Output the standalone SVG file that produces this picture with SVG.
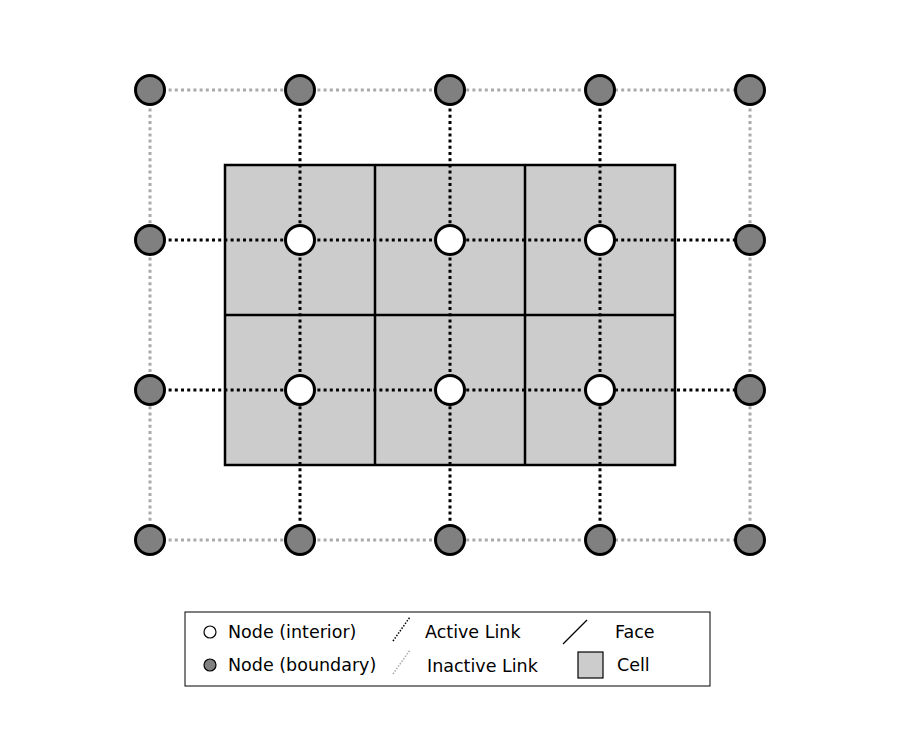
<svg xmlns="http://www.w3.org/2000/svg" width="900" height="750" viewBox="0 0 900 750">
<style>
.cell{fill:#cccccc;stroke:none}
.face{stroke:#000;stroke-width:2.5;fill:none}
.act{stroke:#000;stroke-width:3;stroke-dasharray:3,3.2;fill:none}
.inact{stroke:#aaaaaa;stroke-width:3;stroke-dasharray:3,3.2;fill:none}
.int{fill:#fff;stroke:#000;stroke-width:3}
.bnd{fill:#808080;stroke:#000;stroke-width:3}
text{font-family:"DejaVu Sans",sans-serif;font-size:17.5px;fill:#000}
</style>
<rect width="900" height="750" fill="#fff"/>
<g id="cells">
<rect class="cell" x="225" y="165" width="450" height="300"/>
</g>
<g id="faces">
<rect class="face" x="225" y="165" width="450" height="300"/>
<line class="face" x1="375" y1="165" x2="375" y2="465"/>
<line class="face" x1="525" y1="165" x2="525" y2="465"/>
<line class="face" x1="225" y1="315" x2="675" y2="315"/>
</g>
<g id="connectors">
<line class="inact" x1="150" y1="90" x2="750" y2="90"/>
<line class="inact" x1="150" y1="540" x2="750" y2="540"/>
<line class="inact" x1="150" y1="90" x2="150" y2="540"/>
<line class="inact" x1="750" y1="90" x2="750" y2="540"/>
<line class="act" x1="150" y1="240" x2="750" y2="240"/>
<line class="act" x1="150" y1="390" x2="750" y2="390"/>
<line class="act" x1="300" y1="90" x2="300" y2="540"/>
<line class="act" x1="450" y1="90" x2="450" y2="540"/>
<line class="act" x1="600" y1="90" x2="600" y2="540"/>
</g>
<g id="n0"><circle class="bnd" cx="150" cy="90" r="14.5"/></g>
<g id="n1"><circle class="bnd" cx="300" cy="90" r="14.5"/></g>
<g id="n2"><circle class="bnd" cx="450" cy="90" r="14.5"/></g>
<g id="n3"><circle class="bnd" cx="600" cy="90" r="14.5"/></g>
<g id="n4"><circle class="bnd" cx="750" cy="90" r="14.5"/></g>
<g id="n5"><circle class="bnd" cx="150" cy="240" r="14.5"/></g>
<g id="n6"><circle class="int" cx="300" cy="240" r="14.5"/></g>
<g id="n7"><circle class="int" cx="450" cy="240" r="14.5"/></g>
<g id="n8"><circle class="int" cx="600" cy="240" r="14.5"/></g>
<g id="n9"><circle class="bnd" cx="750" cy="240" r="14.5"/></g>
<g id="n10"><circle class="bnd" cx="150" cy="390" r="14.5"/></g>
<g id="n11"><circle class="int" cx="300" cy="390" r="14.5"/></g>
<g id="n12"><circle class="int" cx="450" cy="390" r="14.5"/></g>
<g id="n13"><circle class="int" cx="600" cy="390" r="14.5"/></g>
<g id="n14"><circle class="bnd" cx="750" cy="390" r="14.5"/></g>
<g id="n15"><circle class="bnd" cx="150" cy="540" r="14.5"/></g>
<g id="n16"><circle class="bnd" cx="300" cy="540" r="14.5"/></g>
<g id="n17"><circle class="bnd" cx="450" cy="540" r="14.5"/></g>
<g id="n18"><circle class="bnd" cx="600" cy="540" r="14.5"/></g>
<g id="n19"><circle class="bnd" cx="750" cy="540" r="14.5"/></g>
<g id="legend">
<rect x="185" y="612" width="525" height="74" fill="#fff" stroke="#000" stroke-width="1"/>
<circle cx="210" cy="632" r="6" fill="#fff" stroke="#000" stroke-width="1.2"/>
<text x="228" y="638">Node (interior)</text>
<circle cx="210" cy="665" r="6" fill="#808080" stroke="#000" stroke-width="1.2"/>
<text x="228" y="671">Node (boundary)</text>
<line x1="393" y1="641" x2="410" y2="617" stroke="#000" stroke-width="1.5" stroke-dasharray="1.5,1.5"/>
<text x="425" y="638">Active Link</text>
<line x1="393" y1="674" x2="410" y2="650" stroke="#aaaaaa" stroke-width="1.5" stroke-dasharray="1.5,1.5"/>
<text x="427" y="672">Inactive Link</text>
<line x1="563" y1="644" x2="587" y2="620" stroke="#000" stroke-width="1.3"/>
<text x="615" y="638">Face</text>
<rect x="578" y="652" width="25" height="26" fill="#cccccc" stroke="#000" stroke-width="1.2"/>
<text x="617" y="671">Cell</text>
</g>
</svg>
